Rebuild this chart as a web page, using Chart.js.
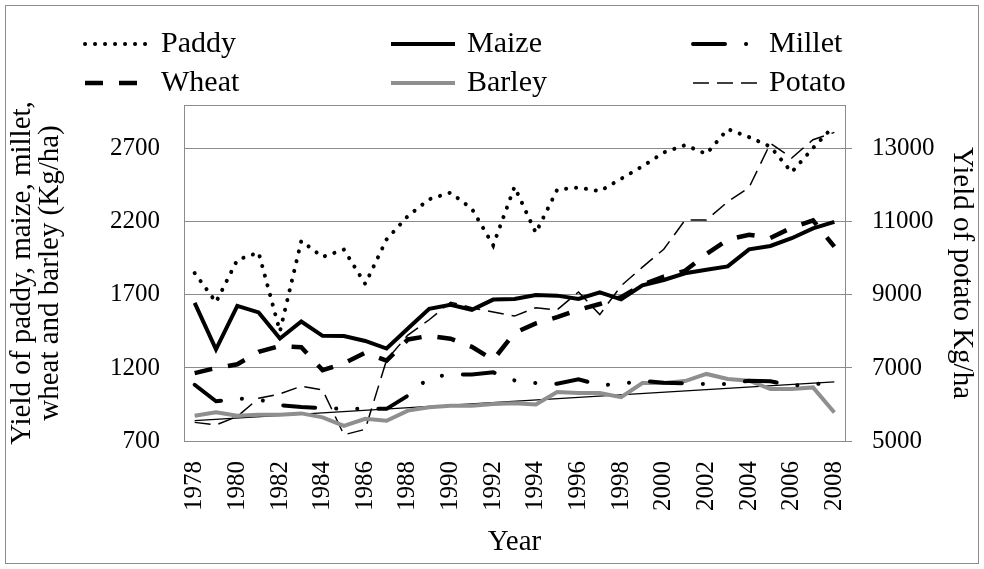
<!DOCTYPE html>
<html lang="en">
<head>
    <meta charset="UTF-8">
    <title>Yield of crops 1978-2008</title>
    <style>
        html, body {
            margin: 0;
            padding: 0;
            background-color: #ffffff;
        }
        #yieldChart {
            display: block;
        }
    </style>
</head>
<body>
    <canvas id="yieldChart" width="984" height="569"></canvas>

    <script src="https://cdn.jsdelivr.net/npm/chart.js"></script>
    <script>
        // Values (Kg/ha)
        const years = ['1978', '1979', '1980', '1981', '1982', '1983', '1984', '1985', '1986', '1987',
                       '1988', '1989', '1990', '1991', '1992', '1993', '1994', '1995', '1996', '1997',
                       '1998', '1999', '2000', '2001', '2002', '2003', '2004', '2005', '2006', '2007', '2008'];
        const yearTicks = ['1978', '1980', '1982', '1984', '1986', '1988', '1990', '1992', '1994', '1996',
                           '1998', '2000', '2002', '2004', '2006', '2008'];
        const leftTicks = [700, 1200, 1700, 2200, 2700];
        const rightTicks = [5000, 7000, 9000, 11000, 13000];

        const paddy = [1850, 1650, 1940, 1990, 1450, 2070, 1960, 2010, 1775, 2080,
                       2240, 2355, 2400, 2290, 2040, 2440, 2125, 2420, 2435, 2410,
                       2495, 2580, 2675, 2725, 2665, 2835, 2780, 2715, 2540, 2705, 2860];
        const maize = [1645, 1328, 1625, 1580, 1402, 1518, 1420, 1418, 1385, 1333,
                       1470, 1605, 1632, 1598, 1668, 1672, 1700, 1695, 1672, 1718,
                       1670, 1765, 1802, 1848, 1872, 1895, 2012, 2035, 2088, 2155, 2200];
        const millet = [1085, 972, 990, 985, 945, 932, 926, 920, 920, 920,
                        1010, 1135, 1155, 1155, 1170, 1115, 1097, 1092, 1123, 1081,
                        1092, 1111, 1099, 1095, 1090, 1090, 1113, 1109, 1079, 1090, 1095];
        const wheat = [1165, 1200, 1225, 1310, 1350, 1342, 1185, 1232, 1305, 1250,
                       1395, 1420, 1400, 1345, 1255, 1440, 1505, 1548, 1598, 1638,
                       1685, 1770, 1825, 1865, 1980, 2078, 2112, 2090, 2160, 2210, 2030];
        const barley = [873, 896, 873, 880, 880, 889, 862, 804, 852, 839,
                        908, 931, 942, 942, 954, 959, 950, 1035, 1028, 1028,
                        1000, 1097, 1097, 1110, 1159, 1125, 1113, 1056, 1056, 1067, 895];
        const potato = [5510, 5440, 5670, 6170, 6290, 6500, 6400, 5170, 5320, 7220,
                        7900, 8320, 8800, 8650, 8530, 8420, 8650, 8590, 9080, 8460,
                        9250, 9760, 10250, 11050, 11050, 11550, 11940, 13150, 12750, 13250, 13450];
        // thin linear trend line, only its two ends are read
        const trend = [840, null, null, null, null, null, null, null, null, null,
                       null, null, null, null, null, null, null, null, null, null,
                       null, null, null, null, null, null, null, null, null, null, 1105];

        const seriesNames = ['Paddy', 'Maize', 'Millet', 'Wheat', 'Barley', 'Potato'];

        const serif = '"Liberation Serif", "Times New Roman", serif';
        const gridGrey = '#8c8c8c';
        Chart.defaults.font.family = serif;
        Chart.defaults.color = '#000000';

        // Frame, plot box and a legend laid out in three columns like the original
        const framePlugin = {
            id: 'frame',
            beforeDatasetsDraw(chart) {
                const ctx = chart.ctx;
                const a = chart.chartArea;
                ctx.save();
                ctx.strokeStyle = gridGrey;
                ctx.lineWidth = 1;
                ctx.strokeRect(Math.round(a.left) + 0.5, Math.round(a.top) + 0.5,
                               Math.round(a.right - a.left), Math.round(a.bottom - a.top));
                ctx.restore();
            },
            afterDraw(chart) {
                const ctx = chart.ctx;
                ctx.save();
                ctx.strokeStyle = gridGrey;
                ctx.lineWidth = 1;
                ctx.strokeRect(5.5, 5.5, 973, 558);

                const cols = [85, 391, 693];
                const rows = [44, 83];
                seriesNames.forEach((name, i) => {
                    const ds = chart.data.datasets[i];
                    const x = cols[i % 3];
                    const y = rows[Math.floor(i / 3)];
                    ctx.strokeStyle = ds.borderColor;
                    ctx.lineWidth = ds.borderWidth;
                    ctx.lineCap = ds.borderCapStyle || 'butt';
                    ctx.setLineDash(ds.borderDash || []);
                    ctx.beginPath();
                    ctx.moveTo(x, y);
                    ctx.lineTo(x + 64, y);
                    ctx.stroke();
                    ctx.setLineDash([]);
                    ctx.fillStyle = '#000000';
                    ctx.font = '30px ' + serif;
                    ctx.textBaseline = 'middle';
                    ctx.fillText(name, x + 76, y);
                });
                ctx.restore();
            }
        };

        function series(label, data, axis, color, width, dash, cap) {
            return {
                label: label,
                data: data,
                yAxisID: axis,
                borderColor: color,
                backgroundColor: color,
                borderWidth: width,
                borderDash: dash,
                borderCapStyle: cap,
                pointRadius: 0,
                pointHoverRadius: 0,
                tension: 0,
                fill: false
            };
        }

        const datasets = [
            series('Paddy', paddy, 'y', '#000000', 4, [0.1, 9.9], 'round'),
            series('Maize', maize, 'y', '#000000', 4, [], 'butt'),
            series('Millet', millet, 'y', '#000000', 4, [32, 21, 0.1, 21, 0.1, 21], 'round'),
            series('Wheat', wheat, 'y', '#000000', 4.5, [18, 16], 'butt'),
            series('Barley', barley, 'y', '#8f8f8f', 4, [], 'butt'),
            series('Potato', potato, 'y1', '#000000', 1.5, [16, 8], 'butt'),
            series('Trend', trend, 'y', '#000000', 1.2, [], 'butt')
        ];
        datasets[6].spanGaps = true;

        new Chart(document.getElementById('yieldChart'), {
            type: 'line',
            data: { labels: years, datasets: datasets },
            plugins: [framePlugin],
            options: {
                responsive: false,
                devicePixelRatio: 1,
                animation: false,
                layout: { padding: { top: 105, left: 0, right: 0, bottom: 0 } },
                plugins: {
                    legend: { display: false },
                    tooltip: { enabled: false }
                },
                scales: {
                    x: {
                        type: 'category',
                        offset: true,
                        grid: { display: false },
                        border: { color: gridGrey },
                        ticks: {
                            autoSkip: false,
                            minRotation: 90,
                            maxRotation: 90,
                            padding: 12,
                            font: { size: 25 },
                            callback: function (value) {
                                const label = this.getLabelForValue(value);
                                return yearTicks.includes(label) ? label : '';
                            }
                        },
                        title: {
                            display: true,
                            text: 'Year',
                            font: { size: 29 },
                            padding: { top: 0, bottom: 9 }
                        },
                        afterFit: (scale) => { scale.height = 128; }
                    },
                    y: {
                        position: 'left',
                        min: 700,
                        max: 3000,
                        grid: { color: gridGrey, drawTicks: false },
                        border: { color: gridGrey },
                        ticks: {
                            padding: 24,
                            font: { size: 25 },
                            callback: (value) => String(value)
                        },
                        afterBuildTicks: (scale) => { scale.ticks = leftTicks.map(v => ({ value: v })); },
                        title: {
                            display: true,
                            text: ['Yield of paddy, maize, millet,', 'wheat and barley (Kg/ha)'],
                            font: { size: 29, lineHeight: 0.95 },
                            padding: { top: 9, bottom: 0 }
                        },
                        afterFit: (scale) => { scale.width = 184; }
                    },
                    y1: {
                        position: 'right',
                        min: 5000,
                        max: 14200,
                        grid: { drawOnChartArea: false, color: gridGrey, tickLength: 7 },
                        border: { color: gridGrey },
                        ticks: {
                            padding: 20,
                            font: { size: 25 },
                            callback: (value) => String(value)
                        },
                        afterBuildTicks: (scale) => { scale.ticks = rightTicks.map(v => ({ value: v })); },
                        title: {
                            display: true,
                            text: 'Yield of potato Kg/ha',
                            font: { size: 29 },
                            padding: { top: 5, bottom: 0 }
                        },
                        afterFit: (scale) => { scale.width = 139; }
                    }
                }
            }
        });
    </script>
</body>
</html>
